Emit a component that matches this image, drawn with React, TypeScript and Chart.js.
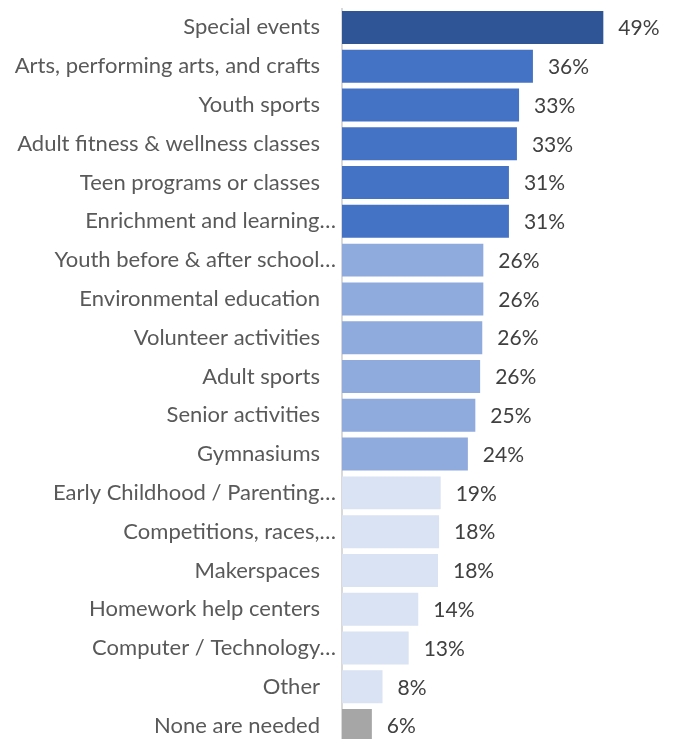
import React, { useEffect, useRef } from "react";
import { Chart, registerables } from "chart.js";

Chart.register(...registerables);

const categories = [
  "Special events",
  "Arts, performing arts, and crafts",
  "Youth sports",
  "Adult fitness & wellness classes",
  "Teen programs or classes",
  "Enrichment and learning…",
  "Youth before & after school…",
  "Environmental education",
  "Volunteer activities",
  "Adult sports",
  "Senior activities",
  "Gymnasiums",
  "Early Childhood / Parenting…",
  "Competitions, races,…",
  "Makerspaces",
  "Homework help centers",
  "Computer / Technology…",
  "Other",
  "None are needed",
];

const values = [49.0, 35.8, 33.2, 32.8, 31.3, 31.3, 26.5, 26.5, 26.3, 25.9, 25.0, 23.6, 18.5, 18.2, 18.0, 14.3, 12.5, 7.6, 5.6];

const valueLabels = ["49%", "36%", "33%", "33%", "31%", "31%", "26%", "26%", "26%", "26%", "25%", "24%", "19%", "18%", "18%", "14%", "13%", "8%", "6%"];

const barColors = [
  "#2F5597",
  "#4472C4", "#4472C4", "#4472C4", "#4472C4", "#4472C4",
  "#8FAADC", "#8FAADC", "#8FAADC", "#8FAADC", "#8FAADC", "#8FAADC",
  "#DAE3F3", "#DAE3F3", "#DAE3F3", "#DAE3F3", "#DAE3F3", "#DAE3F3",
  "#A6A6A6",
];

const FONT = "Lato, 'Open Sans', sans-serif";

const labelPlugin = {
  id: "labels",
  afterDatasetsDraw(chart: any) {
    const ctx = chart.ctx;
    const meta = chart.getDatasetMeta(0);
    const yScale = chart.scales.y;
    const left = chart.chartArea.left;
    ctx.save();
    ctx.textBaseline = "middle";
    // category labels
    ctx.font = `22px ${FONT}`;
    ctx.fillStyle = "#595959";
    ctx.textAlign = "right";
    categories.forEach((c, i) => {
      const y = yScale.getPixelForTick(i);
      const truncated = c.endsWith("…");
      ctx.fillText(c, left - (truncated ? 6 : 22), y);
    });
    // value labels
    ctx.font = `21px ${FONT}`;
    ctx.fillStyle = "#404040";
    ctx.textAlign = "left";
    meta.data.forEach((bar: any, i: number) => {
      ctx.fillText(valueLabels[i], bar.x + 15, bar.y + 1);
    });
    ctx.restore();
  },
};

export default function App() {
  const ref = useRef<HTMLCanvasElement>(null);
  useEffect(() => {
    document.documentElement.style.overflow = "hidden";
    if (!ref.current) return;
    const chart = new Chart(ref.current, {
      type: "bar",
      data: {
        labels: categories,
        datasets: [
          {
            data: values,
            backgroundColor: barColors,
            borderWidth: 0,
            barPercentage: 0.85,
            categoryPercentage: 1,
          },
        ],
      },
      options: {
        indexAxis: "y",
        responsive: true,
        maintainAspectRatio: false,
        animation: false,
        layout: { padding: { top: 0, bottom: 0, left: 0, right: 4 } },
        plugins: { legend: { display: false }, tooltip: { enabled: false } },
        scales: {
          x: { display: false, min: 0, max: 60 },
          y: {
            afterFit: (s: any) => {
              s.width = 334;
              s.paddingTop = 0;
              s.paddingBottom = 0;
            },
            grid: { display: false, drawTicks: false },
            border: { display: true, color: "#D9D9D9", width: 2 },
            ticks: { display: false, autoSkip: false },
          },
        },
      },
      plugins: [labelPlugin],
    });
    return () => chart.destroy();
  }, []);
  return (
    <div style={{ position: "relative", width: 658, height: 737 }}>
      <canvas ref={ref} />
    </div>
  );
}
